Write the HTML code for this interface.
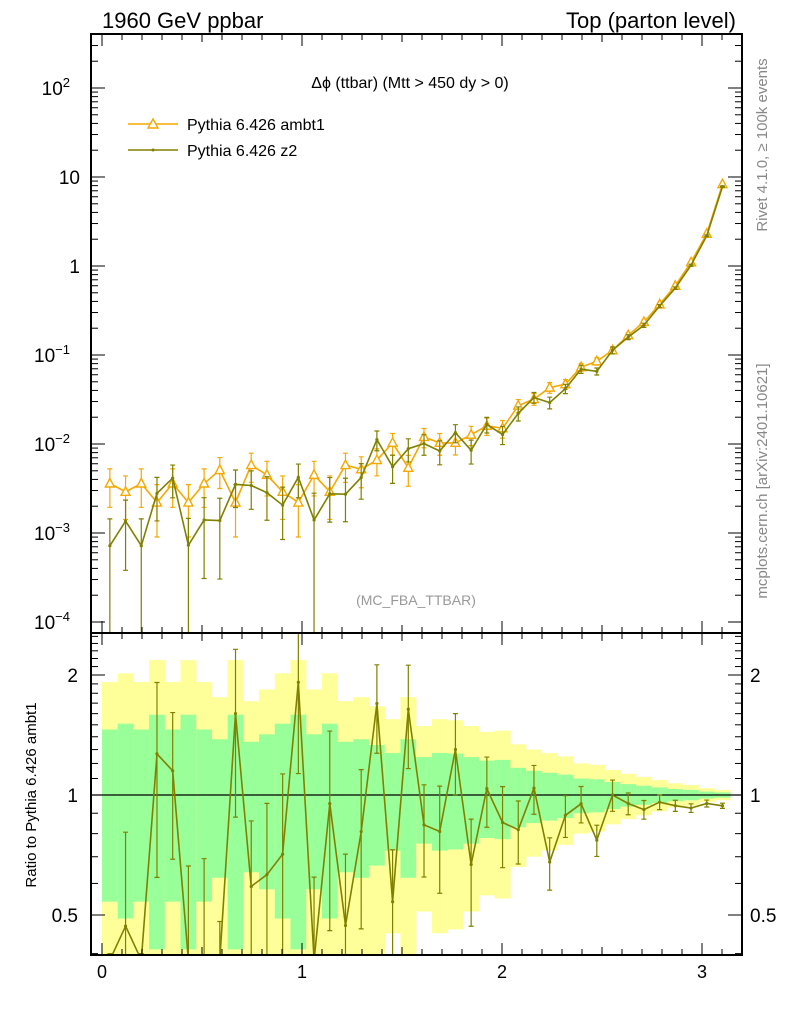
<!DOCTYPE html>
<html><head><meta charset="utf-8"><style>
html,body{margin:0;padding:0;background:#fff;overflow:hidden;width:786px;height:1024px;}
svg{display:block;overflow:hidden;}
svg text{font-family:"Liberation Sans",sans-serif;}
</style></head><body>
<svg id="c" width="786" height="1024" viewBox="0 0 786 1024" xmlns="http://www.w3.org/2000/svg">
<rect width="786" height="1024" fill="#fff"/>
<g id="bands"></g>
<g id="marks"></g>
<g id="axes"></g>
<text x="102" y="28" font-size="22">1960 GeV ppbar</text>
<text x="736" y="28" font-size="22" text-anchor="end">Top (parton level)</text>
<text x="410" y="88" font-size="16" text-anchor="middle">Δϕ (ttbar) (Mtt &gt; 450 dy &gt; 0)</text>
<text x="416" y="605" font-size="14" fill="#999" text-anchor="middle">(MC_FBA_TTBAR)</text>
<text transform="translate(767,145) rotate(-90)" font-size="15" fill="#888" text-anchor="middle">Rivet 4.1.0, ≥ 100k events</text>
<text transform="translate(767,481) rotate(-90)" font-size="15" fill="#888" text-anchor="middle">mcplots.cern.ch [arXiv:2401.10621]</text>
<text transform="translate(36,795) rotate(-90)" font-size="15" text-anchor="middle">Ratio to Pythia 6.426 ambt1</text>
<g>
<g>
<line x1="128" y1="124" x2="178" y2="124" stroke="#f5a800" stroke-width="1.6"/>
<polygon points="153,119 148,128 158,128" fill="#fff" stroke="#f5a800" stroke-width="1.4"/>
<text x="187" y="130" font-size="16">Pythia 6.426 ambt1</text>
</g>
<g>
<line x1="128" y1="150" x2="178" y2="150" stroke="#808000" stroke-width="1.6"/>
<circle cx="153" cy="150" r="1.5" fill="#808000"/>
<text x="187" y="156" font-size="16">Pythia 6.426 z2</text>
</g>
</g>
</svg>
<script>
const ambt1 = [3.6e-3,2.9e-3,3.6e-3,2.2e-3,3.6e-3,2.2e-3,3.6e-3,5.1e-3,2.2e-3,5.8e-3,4.5e-3,2.9e-3,2.2e-3,4.5e-3,2.9e-3,5.8e-3,5.2e-3,6.6e-3,1.03e-2,5.4e-3,1.2e-2,1.03e-2,1.03e-2,1.27e-2,1.6e-2,1.5e-2,2.7e-2,3.2e-2,4.3e-2,4.7e-2,7.3e-2,8.5e-2,0.113,0.167,0.235,0.37,0.6,1.1,2.3,8.3];
const ambt1Err = [.46,.51,.46,.59,.46,.59,.46,.38,.59,.36,.42,.51,.59,.42,.51,.36,.38,.335,.275,.38,.245,.275,.27,.245,.22,.225,.17,.15,.137,.125,.10,.095,.078,.065,.055,.045,.035,.03,.02,.015];
const z2 = [7.2e-4,1.36e-3,7.2e-4,2.79e-3,4.14e-3,7.3e-4,1.4e-3,1.38e-3,3.52e-3,3.42e-3,2.84e-3,2.06e-3,4.22e-3,1.4e-3,2.76e-3,2.73e-3,4.21e-3,1.12e-2,5.56e-3,8.86e-3,1.01e-2,8.34e-3,1.34e-2,8.5e-3,1.66e-2,1.28e-2,2.21e-2,3.33e-2,2.92e-2,4.18e-2,6.94e-2,6.55e-2,0.113,0.159,0.216,0.355,0.564,1.02,2.19,7.8];
const z2Err = [1.0,.72,1.0,.51,.4,1.0,.78,.78,.45,.46,.51,.59,.41,1.0,.52,.51,.43,.25,.35,.29,.26,.3,.23,.3,.2,.23,.18,.14,.15,.12,.105,.09,.09,.063,.054,.042,.032,.025,.02,.015];
const xTicks = [0,1,2,3];
const mainTicks = [{v:100,t:"10",e:"2"},{v:10,t:"10",e:""},{v:1,t:"1",e:""},{v:0.1,t:"10",e:"−1"},{v:0.01,t:"10",e:"−2"},{v:0.001,t:"10",e:"−3"},{v:0.0001,t:"10",e:"−4"}];
const ratioTicks = [0.5,1,2];

const NS="http://www.w3.org/2000/svg";
const L=91,R=742,T=34,M=633,B=955;
const xs=v=>102+v*200;
const ym=v=>266-89*Math.log10(v);
const yr=v=>795-398.6*Math.log10(v);
const nb=ambt1.length, w=Math.PI/nb;
function mk(tag,attrs,parent){const e=document.createElementNS(NS,tag);for(const k in attrs)e.setAttribute(k,attrs[k]);(parent||document.getElementById('marks')).appendChild(e);return e;}
const clampR=y=>Math.max(M,Math.min(B,y));
const bands=document.getElementById('bands');
for(let i=0;i<nb;i++){
  const x0=xs(i*w),x1=xs((i+1)*w),s=ambt1Err[i];
  const lo2=1-2*s, hi2=1+2*s;
  const yt=clampR(yr(hi2)), yb=lo2>0?clampR(yr(lo2)):B;
  let r=mk('rect',{x:x0,y:yt,width:x1-x0+0.3,height:yb-yt,fill:'#ffff99'},bands);
  
  
  const gt=clampR(yr(1+s)), gb=clampR(yr(1-s));
  r=mk('rect',{x:x0,y:gt,width:x1-x0+0.3,height:gb-gt,fill:'#99ff99'},bands);
  
  
}
const defs=mk('defs',{},document.getElementById('c'));
const cp1=mk('clipPath',{id:'cm'},defs);mk('rect',{x:L,y:T,width:R-L,height:M-T},cp1);
const cp2=mk('clipPath',{id:'cr'},defs);mk('rect',{x:L,y:M,width:R-L,height:B-M},cp2);
const gm=mk('g',{'clip-path':'url(#cm)'});
const gr=mk('g',{'clip-path':'url(#cr)'});
mk('line',{x1:L,x2:R,y1:yr(1),y2:yr(1),stroke:'#000','stroke-width':1.3},gr);
function series(vals,errs,col,tri,g,yf,name,ylo,yhi){
  const cl=y=>Math.max(ylo-5,Math.min(yhi+5,y));
  let d='';
  for(let i=0;i<nb;i++){const x=xs((i+0.5)*w),y=cl(yf(vals[i]));d+=(i?'L':'M')+x.toFixed(1)+','+y.toFixed(1);}
  const p=mk('path',{d:d,fill:'none',stroke:col,'stroke-width':1.6},g);
  
  
  for(let i=0;i<nb;i++){
    const x=xs((i+0.5)*w),v=vals[i],e=errs[i]*v;
    const y1=cl(yf(v+e)),y2=(v-e)>0?cl(yf(v-e)):yhi+5;
    const eb=mk('path',{d:`M${x},${y1}L${x},${y2}M${x-2.5},${y1}L${x+2.5},${y1}M${x-2.5},${y2}L${x+2.5},${y2}`,stroke:col,'stroke-width':1.2,fill:'none'},g);
    
    
    const y=cl(yf(v));
    let m;
    if(tri){m=mk('polygon',{points:`${x},${y-5} ${x-4.5},${y+3.5} ${x+4.5},${y+3.5}`,fill:'#fff',stroke:col,'stroke-width':1.4},g);}
    else{m=mk('circle',{cx:x,cy:y,r:1.6,fill:col},g);}
    
    
  }
}
series(ambt1,ambt1Err,'#f5a800',true,gm,ym,'ambt1',T,M);
series(z2,z2Err,'#808000',false,gm,ym,'z2',T,M);
const ratio=z2.map((v,i)=>v/ambt1[i]);
const ratioErr=z2Err.slice();
series(ratio,ratioErr,'#808000',false,gr,yr,'z2-ratio',M,B);
const ax=document.getElementById('axes');
mk('rect',{x:L,y:T,width:R-L,height:B-T,fill:'none',stroke:'#000','stroke-width':2},ax);
mk('line',{x1:L,x2:R,y1:M,y2:M,stroke:'#000','stroke-width':2},ax);
function tick(x1,y1,x2,y2){mk('line',{x1,y1,x2,y2,stroke:'#000','stroke-width':1},ax);}
for(let k=0;k<=32;k++){const v=k/10,x=xs(v),len=(k%10==0)?12:(k%5==0?8:6);
  tick(x,T,x,T+len);tick(x,M,x,M-len);tick(x,M,x,M+len);tick(x,B,x,B-len);}
xTicks.forEach(v=>{const t=mk('text',{x:xs(v),y:978,'font-size':18,'text-anchor':'middle'},ax);t.textContent=v;
  
  });
for(let d=-4;d<=2;d++){for(let m=1;m<10;m++){const v=m*Math.pow(10,d),y=ym(v);if(y<T||y>M)continue;const len=m==1?14:7;tick(L,y,L+len,y);tick(R,y,R-len,y);}}
mainTicks.forEach(o=>{const t=mk('text',{x:o.e?70:80,y:ym(o.v)+7,'font-size':19,'text-anchor':'end'},ax);t.textContent=o.t;
  
  
  if(o.e){const s=mk('tspan',{dy:-8,'font-size':13},t);s.textContent=o.e;}});
for(let k=4;k<=25;k++){const v=k/10,y=yr(v);if(y<M||y>B)continue;const len=(k==5||k==10||k==20)?14:7;tick(L,y,L+len,y);tick(R,y,R-len,y);}
ratioTicks.forEach(v=>{['l','r'].forEach(s=>{const t=mk('text',{x:s=='l'?78:750,y:yr(v)+7,'font-size':19,'text-anchor':s=='l'?'end':'start'},ax);t.textContent=v;
  
  });});
</script>
</body></html>
